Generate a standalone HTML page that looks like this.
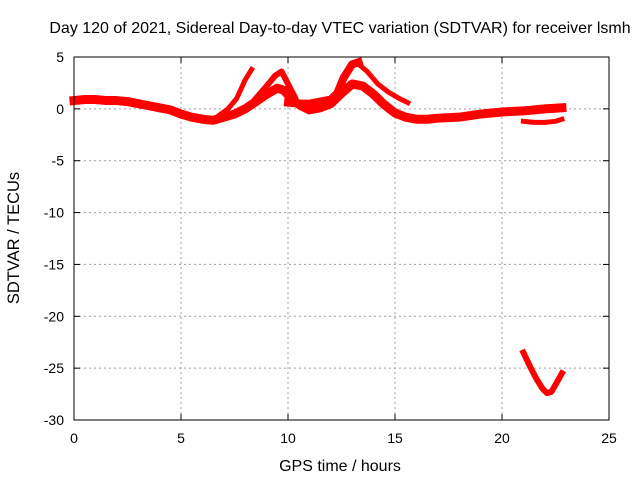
<!DOCTYPE html>
<html><head><meta charset="utf-8"><style>
body{margin:0;background:#fff;}
svg text{font-family:"Liberation Sans",sans-serif;font-size:14px;fill:#000;}
</style></head><body>
<svg id="chart" width="640" height="480" viewBox="0 0 640 480" xmlns="http://www.w3.org/2000/svg">
<rect width="640" height="480" fill="#fff"/>
<text x="340" y="33" text-anchor="middle" style="font-size:16px">Day 120 of 2021, Sidereal Day-to-day VTEC variation (SDTVAR) for receiver lsmh</text>
<text x="340" y="471" text-anchor="middle" style="font-size:16px">GPS time / hours</text>
<text transform="translate(19,238) rotate(-90)" text-anchor="middle" style="font-size:16.5px">SDTVAR / TECUs</text>
<g id="grid"></g><g id="ticks"></g><g id="series"></g>
<rect x="74" y="57" width="535" height="363" fill="none" stroke="#000" stroke-width="1"/>
</svg>
<script>
const xTicks=[0,5,10,15,20,25];
const yTicks=[5,0,-5,-10,-15,-20,-25,-30];
const mainHours=[0,0.5,1,1.5,2,2.5,3,3.5,4,4.5,5,5.5,6,6.5,7,7.5,8,8.5,9,9.5,9.8,10.2,10.6,11,11.5,12,12.5,13,13.5,14,14.5,15,15.5,16,16.5,17,18,19,20,21,22,22.8];
const mainVals=[0.8,0.9,0.9,0.8,0.8,0.7,0.5,0.3,0.1,-0.1,-0.5,-0.8,-1,-1.1,-0.8,-0.5,0,0.7,1.4,2,1.8,0.9,0.3,-0.1,0.1,0.5,1.5,2.4,2.2,1.4,0.4,-0.4,-0.8,-1,-1,-0.9,-0.8,-0.5,-0.3,-0.2,0,0.1];
const spikeHours=[6.8,7.2,7.6,8,8.3];
const spikeVals=[-0.6,0,1,2.8,3.8];
const peakHours=[8.5,9,9.4,9.7,10,10.3];
const peakVals=[1,2.2,3.2,3.6,2.4,1.2];
const riseHours=[10,10.5,11,11.5,12,12.3,12.6,13,13.3];
const riseVals=[0.6,0.5,0.5,0.7,0.9,1.5,3,4.3,4.5];
const fallHours=[13.3,13.7,14.2,14.7,15.2,15.6];
const fallVals=[4.3,3.6,2.4,1.6,1,0.6];
const loopHours=[21,21.5,22,22.5,22.8];
const loopVals=[-1.2,-1.3,-1.3,-1.2,-1];
const lowHours=[21,21.3,21.6,21.9,22.1,22.3,22.5,22.8];
const lowVals=[-23.5,-24.8,-26,-27,-27.4,-27.3,-26.6,-25.5];
const X0=74,X1=609,Y0=420,Y1=57,XMIN=0,XMAX=25,YMIN=-30,YMAX=5;
const xs=v=>X0+(v-XMIN)/(XMAX-XMIN)*(X1-X0);
const ys=v=>Y0-(v-YMIN)/(YMAX-YMIN)*(Y0-Y1);
const NS="http://www.w3.org/2000/svg";
const grid=document.getElementById('grid'),ticks=document.getElementById('ticks'),series=document.getElementById('series');
function mk(tag,attrs,parent){const e=document.createElementNS(NS,tag);for(const k in attrs)e.setAttribute(k,attrs[k]);parent.appendChild(e);return e;}
xTicks.forEach(t=>{const x=xs(t);
 if(t>XMIN&&t<XMAX){const g=mk('line',{x1:x,x2:x,y1:Y1,y2:Y0,stroke:'#a0a0a0','stroke-dasharray':'2,3'},grid);
 
 }
 const l=mk('text',{x:x,y:Y0+23,'text-anchor':'middle'},ticks);l.textContent=t;
 
 
 mk('line',{x1:x,x2:x,y1:Y0,y2:Y0-6,stroke:'#000'},ticks);mk('line',{x1:x,x2:x,y1:Y1,y2:Y1+6,stroke:'#000'},ticks);});
yTicks.forEach(t=>{const y=ys(t);
 if(t>YMIN&&t<YMAX){const g=mk('line',{x1:X0,x2:X1,y1:y,y2:y,stroke:'#a0a0a0','stroke-dasharray':'2,3'},grid);
 
 }
 const l=mk('text',{x:X0-10,y:y+5,'text-anchor':'end'},ticks);l.textContent=t;
 
 
 mk('line',{x1:X0,x2:X0+6,y1:y,y2:y,stroke:'#000'},ticks);mk('line',{x1:X1,x2:X1-6,y1:y,y2:y,stroke:'#000'},ticks);});
function track(h,v,name,w){const p=mk('polyline',{points:h.map((t,i)=>xs(t)+','+ys(v[i])).join(' '),fill:'none',stroke:'#ff0000','stroke-width':w,'stroke-linejoin':'round','stroke-linecap':'square'},series);
 
 }
track(mainHours,mainVals,'main-series-track',9);
track(spikeHours,spikeVals,'spike-series-track',5);
track(peakHours,peakVals,'peak-series-track',6);
track(riseHours,riseVals,'rise-series-track',8);
track(fallHours,fallVals,'fall-series-track',5);
track(loopHours,loopVals,'loop-series-track',5);
track(lowHours,lowVals,'low-series-track',6);
</script>
</body></html>
